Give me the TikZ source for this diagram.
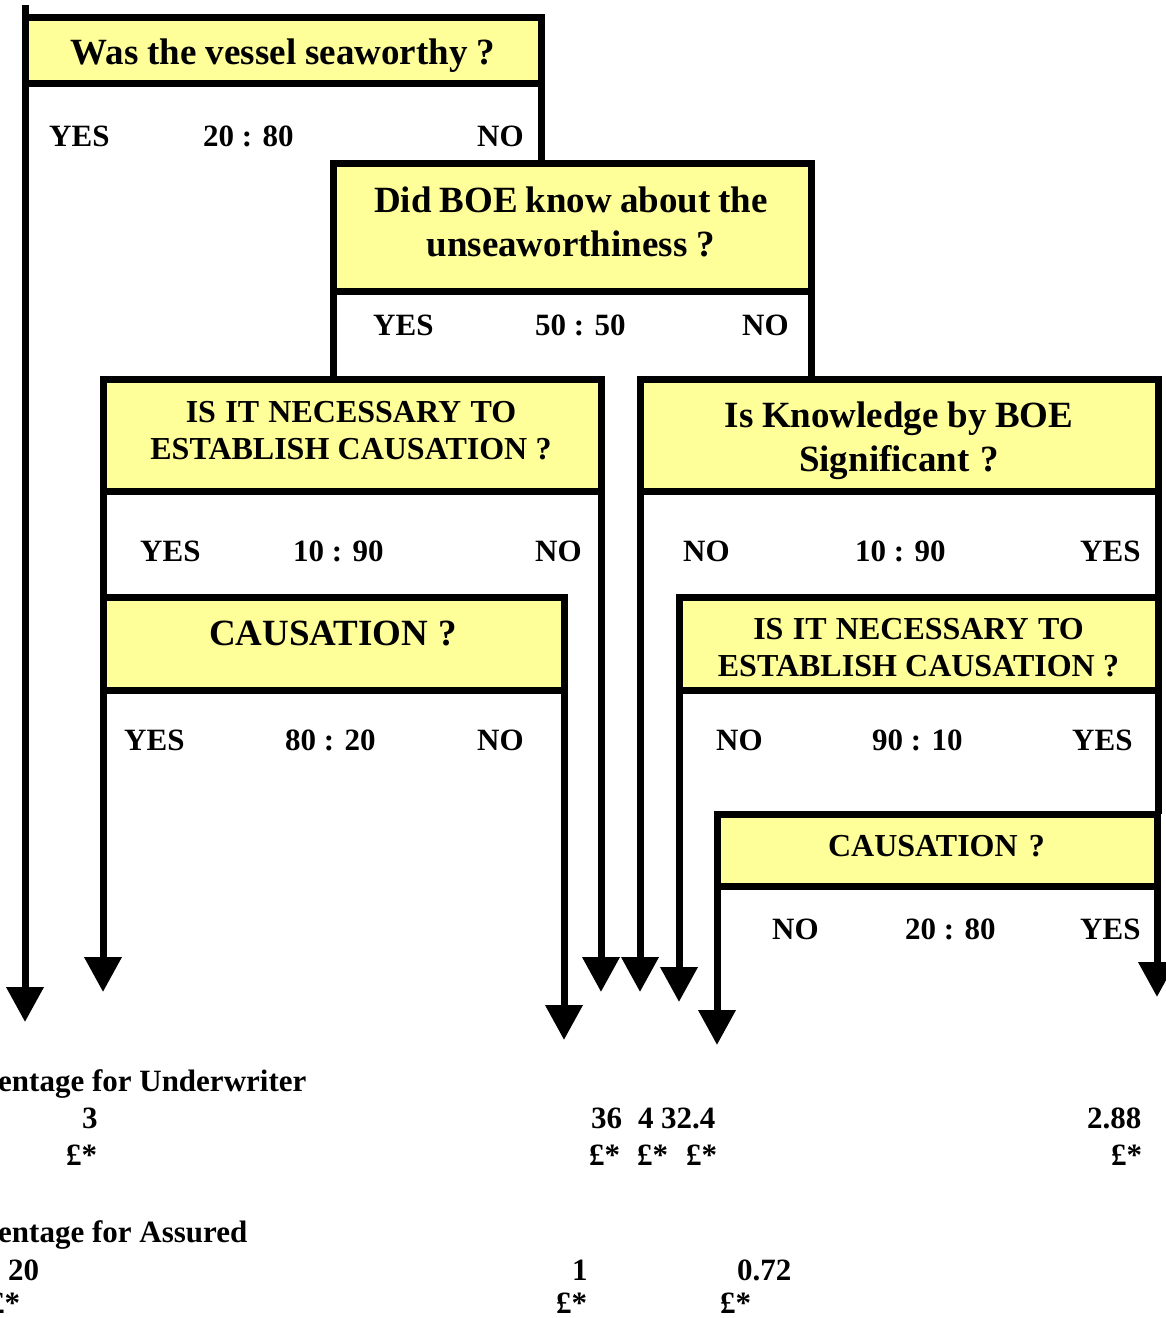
\documentclass[tikz,border=0pt]{standalone}
\usepackage{fontspec}
\setmainfont{Liberation Serif}
\usetikzlibrary{arrows.meta,calc}
\definecolor{qfill}{HTML}{FFFF99}
% question fonts with slightly tighter word spacing
\newcommand\qbigfont{\fontsize{37}{44}\selectfont\bfseries}
\newcommand\qsmallfont{\fontsize{32}{37}\selectfont\bfseries}
\newcommand\tightbig{\spaceskip=6.3pt plus 2pt\relax}
\newcommand\tightsmall{\spaceskip=6.4pt plus 2pt\relax}
\newcommand\tighttop{\spaceskip=7.8pt plus 2pt\relax}
\begin{document}
\begin{tikzpicture}[x=1pt,y=-1pt,
  qbox/.style={draw=black, line width=7pt, fill=qfill, rectangle,
    outer sep=0pt, inner sep=0pt, anchor=north west},
  branch/.style={line width=7pt},
  outcome/.style={branch, -{Triangle[width=36pt,length=35pt]}},
  qbig/.style={font=\qbigfont, execute at begin node=\tightbig,
    inner sep=0pt, anchor=base, align=center, text width=520pt},
  qsmall/.style={font=\qsmallfont, execute at begin node=\tightsmall,
    inner sep=0pt, anchor=base, align=center, text width=520pt},
  lab/.style={font=\fontsize{31}{37}\selectfont\bfseries, inner sep=0pt,
    anchor=base west},
]
\useasboundingbox (0,0) rectangle (1166,1318);

% question boxes
\node[qbox, minimum width=516pt, minimum height=66pt]  (q1) at (25,17)  {};
\node[qbox, minimum width=478pt, minimum height=128pt] (q2) at (333,163) {};
\node[qbox, minimum width=498pt, minimum height=112pt] (q3) at (103,379) {};
\node[qbox, minimum width=518pt, minimum height=112pt] (q4) at (640,379) {};
\node[qbox, minimum width=461pt, minimum height=93pt]  (q5) at (103,597) {};
\node[qbox, minimum width=479pt, minimum height=93pt]  (q6) at (679,597) {};
\node[qbox, minimum width=440pt, minimum height=72pt]  (q7) at (717,814) {};

% question texts
\node[qbig, execute at begin node=\tighttop] (q1t) at (283,64) {Was the vessel seaworthy ?};
\node[qbig]   (q2t) at (571,212)   {Did BOE know about the\\unseaworthiness ?};
\node[qsmall] (q3t) at (351,422.5) {IS IT NECESSARY TO\\ESTABLISH CAUSATION ?};
\node[qbig]   (q4t) at (899,427)   {Is Knowledge by BOE\\Significant ?};
\node[qbig]   (q5t) at (333,645)   {CAUSATION ?};
\node[qsmall] (q6t) at (918.5,639.5) {IS IT NECESSARY TO\\ESTABLISH CAUSATION ?};
\node[qsmall] (q7t) at (936.5,856.5) {CAUSATION ?};

% free ends of the outcome arrows
\coordinate (top1) at (25,5);
\coordinate (e1) at (25,1022);
\coordinate (e2) at (601,992);
\coordinate (e3) at (103,992);
\coordinate (e4) at (564,1040);
\coordinate (e5) at (640,992);
\coordinate (e6) at (679,1002);
\coordinate (e7) at (717,1045);
\coordinate (e8) at (1157,997);

% branches between questions
\draw[branch] (top1) -- (q1.north west);
\draw[branch] (q1.south east) -- (q1.south east |- q2.north);
\draw[branch] (q2.south west) -- (q2.south west |- q3.north);
\draw[branch] (q2.south east) -- (q2.south east |- q4.north);
\draw[branch] (q3.south west) -- (q5.north west);
\draw[branch] (q4.south east) -- (q6.north east);
\draw[branch] (q6.south east) -- (q6.south east |- q7.north);

% branches ending in outcomes
\draw[outcome] (q1.south west) -- (e1);
\draw[outcome] (q3.south east) -- (e2);
\draw[outcome] (q5.south west) -- (e3);
\draw[outcome] (q5.south east) -- (e4);
\draw[outcome] (q4.south west) -- (e5);
\draw[outcome] (q6.south west) -- (e6);
\draw[outcome] (q7.south west) -- (e7);
\draw[outcome] (q7.south east) -- (e8);

% answer labels and odds
\node[lab] (a1y) at (49,146)  {YES};
\node[lab] (a1r) at (203,146) {20 : 80};
\node[lab] (a1n) at (477,146) {NO};

\node[lab] (a2y) at (373,335) {YES};
\node[lab] (a2r) at (535,335) {50 : 50};
\node[lab] (a2n) at (742,335) {NO};

\node[lab] (a3y) at (140,561) {YES};
\node[lab] (a3r) at (293,561) {10 : 90};
\node[lab] (a3n) at (535,561) {NO};

\node[lab] (a4n) at (683,561)  {NO};
\node[lab] (a4r) at (855,561)  {10 : 90};
\node[lab] (a4y) at (1080,561) {YES};

\node[lab] (a5y) at (124,750) {YES};
\node[lab] (a5r) at (285,750) {80 : 20};
\node[lab] (a5n) at (477,750) {NO};

\node[lab] (a6n) at (716,750)  {NO};
\node[lab] (a6r) at (872,750)  {90 : 10};
\node[lab] (a6y) at (1072,750) {YES};

\node[lab] (a7n) at (772,939)  {NO};
\node[lab] (a7r) at (905,939)  {20 : 80};
\node[lab] (a7y) at (1080,939) {YES};

% results
\node[lab] (uh)  at (-2,1091)  {entage for Underwriter};
\node[lab] (u1)  at (82,1128)  {3};
\node[lab] (u1p) at (66,1165)  {£*};
\node[lab] (u2)  at (591,1128) {36};
\node[lab] (u2p) at (589,1165) {£*};
\node[lab] (u3)  at (638,1128) {4};
\node[lab] (u3p) at (637,1165) {£*};
\node[lab] (u4)  at (661,1128) {32.4};
\node[lab] (u4p) at (686,1165) {£*};
\node[lab] (u5)  at (1087,1128) {2.88};
\node[lab] (u5p) at (1111,1165) {£*};

\node[lab] (ah)  at (-2,1242)  {entage for Assured};
\node[lab] (s1)  at (8,1280)   {20};
\node[lab] (s1p) at (-11,1313) {£*};
\node[lab] (s2)  at (572,1280) {1};
\node[lab] (s2p) at (556,1313) {£*};
\node[lab] (s3)  at (737,1280) {0.72};
\node[lab] (s3p) at (720,1313) {£*};
\end{tikzpicture}
\end{document}
